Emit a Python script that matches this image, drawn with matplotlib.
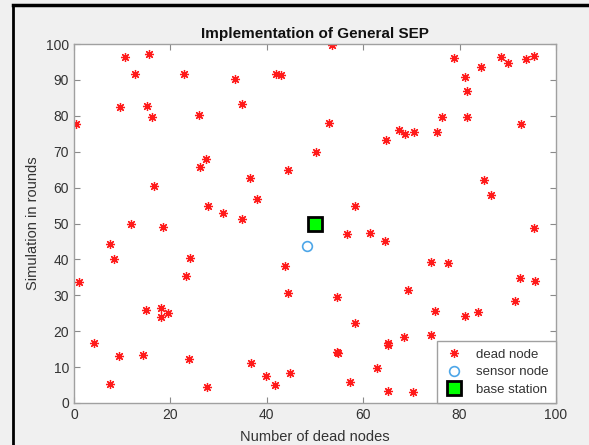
import matplotlib
matplotlib.use('Agg')
import matplotlib.pyplot as plt
from matplotlib.lines import Line2D

plt.rcParams['font.family'] = ['Liberation Sans', 'DejaVu Sans']

# dead nodes
dead_x = [0.4, 10.6, 15.6, 12.7, 22.8, 33.5, 42.0, 43.0, 9.6, 15.1, 16.1, 25.9, 34.9,
          50.3, 27.3, 26.2, 44.3, 36.5, 16.5, 38.0, 27.7, 30.9, 34.9, 11.8, 18.5,
          53.6, 78.8, 88.6, 90.0, 93.8, 95.5, 84.5, 81.1, 81.5, 52.9, 76.3, 81.5, 92.7,
          64.7, 67.4, 68.6, 70.6, 75.4, 85.1, 86.5, 58.4, 95.5,
          7.5, 8.3, 1.0, 24.1, 23.2, 14.9, 18.0, 19.4, 18.1, 4.2, 9.4, 14.4, 23.9, 36.7,
          7.5, 27.6, 39.9, 41.6, 44.9, 43.7, 44.3,
          56.7, 61.4, 64.5, 74.1, 77.6, 92.5, 95.6, 69.2, 54.5, 91.5, 74.9, 81.1, 83.8,
          58.4, 65.2, 65.2, 68.5, 74.1, 54.6, 54.7, 62.9, 57.3, 65.2, 70.4, 50.6]
dead_y = [77.6, 96.4, 97.1, 91.6, 91.6, 90.2, 91.7, 91.4, 82.5, 82.7, 79.6, 80.2, 83.4,
          70.0, 68.1, 65.6, 64.8, 62.7, 60.4, 56.7, 54.9, 52.9, 51.3, 50.0, 49.1,
          99.8, 96.2, 96.3, 94.6, 95.8, 96.7, 93.7, 90.7, 87.0, 78.1, 79.6, 79.6, 77.6,
          73.3, 76.0, 74.9, 75.6, 75.5, 62.2, 57.9, 55.0, 48.7,
          44.3, 40.0, 33.8, 40.5, 35.4, 25.8, 26.4, 25.2, 24.0, 16.8, 13.1, 13.5, 12.3, 11.1,
          5.4, 4.5, 7.6, 4.9, 8.4, 38.3, 30.6,
          47.1, 47.4, 45.0, 39.2, 39.0, 34.9, 33.9, 31.6, 29.5, 28.5, 25.5, 24.3, 25.3,
          22.4, 16.8, 16.2, 18.4, 18.9, 14.3, 13.8, 9.7, 5.8, 3.4, 3.1, 50.6]

sensor_x = [48.4]
sensor_y = [43.6]
base_x = [50]
base_y = [50]

x_ticks = [0, 20, 40, 60, 80, 100]
y_ticks = [0, 10, 20, 30, 40, 50, 60, 70, 80, 90, 100]

fig = plt.figure(figsize=(5.89, 4.45), dpi=100)
fig.patch.set_facecolor('#f0f0f0')

# screenshot frame lines (top and left)
fig.add_artist(Line2D([13 / 589, 13 / 589], [0, 1 - 5 / 445], color='black', lw=2, transform=fig.transFigure))
fig.add_artist(Line2D([13 / 589, 1], [1 - 5 / 445, 1 - 5 / 445], color='black', lw=2.5, transform=fig.transFigure))

ax = fig.add_axes([74 / 589, 1 - 403 / 445, (556 - 74) / 589, (403 - 44) / 445])
ax.set_facecolor('white')

ax.plot(dead_x, dead_y, linestyle='none', marker=(8, 2, 0), markersize=6.5,
        markeredgewidth=0.9, color='#ff1a1a', label='dead node', zorder=2)
ax.plot(sensor_x, sensor_y, linestyle='none', marker='o', markersize=7,
        markerfacecolor='none', markeredgecolor='#4DA6E8', markeredgewidth=1.2,
        label='sensor node', zorder=3)
ax.plot(base_x, base_y, linestyle='none', marker='s', markersize=10,
        markerfacecolor='#00ff00', markeredgecolor='black', markeredgewidth=2,
        label='base station', zorder=4)

ax.set_xlim(0, 100)
ax.set_ylim(0, 100)
ax.set_xticks(x_ticks)
ax.set_yticks(y_ticks)
ax.tick_params(direction='in', top=True, right=True, length=4, width=0.8,
               color='#8a8a8a', labelcolor='#333333', labelsize=10)
for s in ax.spines.values():
    s.set_color('#a0a0a0')
    s.set_linewidth(1)

ax.set_title('Implementation of General SEP', fontsize=11, fontweight='bold',
             color='#111111', pad=4)
ax.set_xlabel('Number of dead nodes', fontsize=10.5, color='#333333', labelpad=6)
ax.set_ylabel('Simulation in rounds', fontsize=10.5, color='#333333', labelpad=4)

leg = ax.legend(loc='lower right', borderaxespad=0, fontsize=9.5, fancybox=False,
                framealpha=1, edgecolor='#a0a0a0', handlelength=1.4,
                handletextpad=1.0, borderpad=0.55, labelspacing=0.4)
leg.get_frame().set_linewidth(1)
for t in leg.get_texts():
    t.set_color('#333333')

fig.savefig('out.png', dpi=100, facecolor=fig.get_facecolor())
